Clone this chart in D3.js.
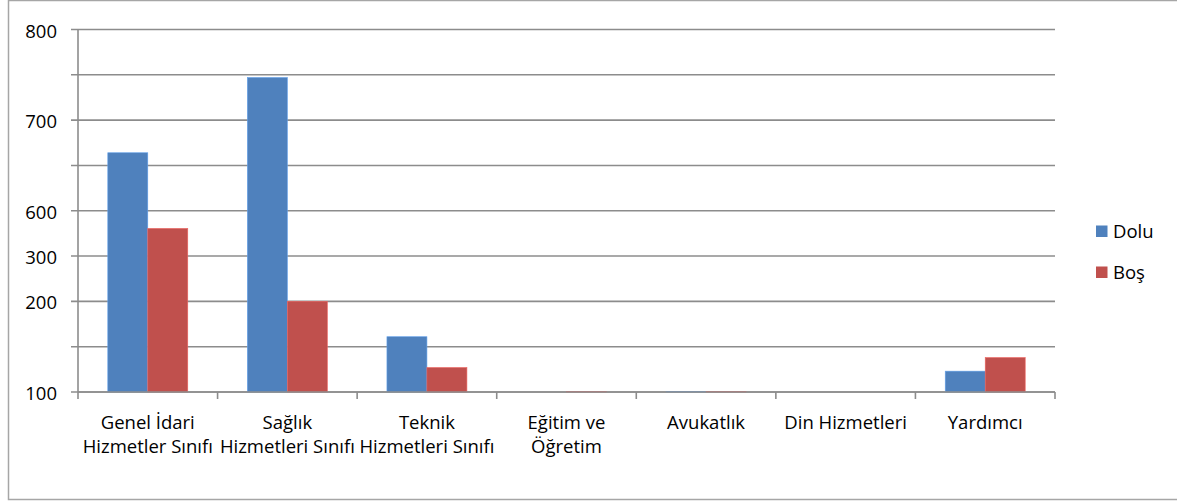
<!DOCTYPE html>
<html lang="tr">
  <head>
    <meta charset="utf-8" />
    <title>Dolu / Boş</title>
    <script src="https://cdnjs.cloudflare.com/ajax/libs/d3/7.4.4/d3.min.js"></script>
    <style>
      body {
        margin: 0;
        background: #fff;
      }
      svg text {
        font-family: 'Open Sans', 'Noto Sans', sans-serif;
        font-size: 18.5px;
        fill: #000;
      }
    </style>
  </head>
  <body>
    <div id="chart"></div>

    <script type="text/javascript">
      // Categories (each label split into lines)
      var categories = [
        ['Genel İdari', 'Hizmetler Sınıfı'],
        ['Sağlık', 'Hizmetleri Sınıfı'],
        ['Teknik', 'Hizmetleri Sınıfı'],
        ['Eğitim ve', 'Öğretim'],
        ['Avukatlık'],
        ['Din Hizmetleri'],
        ['Yardımcı']
      ]
      var seriesNames = ['Dolu', 'Boş']
      var doluValues = [664, 747, 161, 100, 100.4, 100, 123]
      var bosValues = [483, 200, 127, 100.4, 100.4, 100, 138]
      var seriesColors = ['#4F81BD', '#C0504D']

      // The axis is not linear: labelled values sit at these grid steps
      var yLabelValues = [100, 200, 300, 600, 700, 800]
      var yLabelSteps = [0, 2, 3, 4, 6, 8]
      var yTickValues = [100, 150, 200, 300, 600, 650, 700, 750, 800]

      var W = 1177,
        H = 501
      var margin = { top: 29.5, right: 122, bottom: 109, left: 78 },
        width = W - margin.left - margin.right,
        height = H - margin.top - margin.bottom

      var root = d3.select('#chart').append('svg').attr('width', W).attr('height', H)

      // outer frame
      root
        .append('rect')
        .attr('x', 8.5)
        .attr('y', 0.5)
        .attr('width', W)
        .attr('height', 499)
        .attr('fill', 'none')
        .attr('stroke', '#a6a6a6')
        .attr('stroke-width', 1.5)

      var svg = root.append('g').attr('transform', 'translate(' + margin.left + ',' + margin.top + ')')

      var x0 = d3
        .scaleBand()
        .domain(d3.range(categories.length))
        .range([0, width])
        .paddingInner(0.427)
        .paddingOuter(0.2135)
      var x1 = d3.scaleBand().domain(seriesNames).range([0, x0.bandwidth()])

      var stepScale = d3.scaleLinear().domain([0, 8]).range([height, 0])
      var y = d3.scaleLinear().domain(yLabelValues).range(yLabelSteps.map(stepScale))

      // gridlines
      svg
        .append('g')
        .selectAll('line')
        .data(yTickValues)
        .enter()
        .append('line')
        .attr('x1', -7)
        .attr('x2', width)
        .attr('y1', (d) => y(d))
        .attr('y2', (d) => y(d))
        .attr('stroke', '#8c8c8c')
        .attr('stroke-width', 1.6)

      // y labels
      svg
        .append('g')
        .selectAll('text')
        .data(yTickValues.filter((d) => yLabelValues.indexOf(d) >= 0))
        .enter()
        .append('text')
        .attr('x', -21)
        .attr('y', (d) => y(d) + 8)
        .attr('text-anchor', 'end')
        .text((d) => d)

      // bars
      var rows = categories.map(function (c, i) {
        return { i: i, values: [doluValues[i], bosValues[i]] }
      })
      var groups = svg
        .append('g')
        .selectAll('g')
        .data(rows)
        .enter()
        .append('g')
        .attr('transform', (d) => 'translate(' + x0(d.i) + ',0)')
      groups
        .selectAll('rect')
        .data((d) => d.values.map((v, k) => ({ name: seriesNames[k], value: v, k: k })))
        .enter()
        .append('rect')
        .attr('x', (d) => x1(d.name))
        .attr('y', (d) => y(d.value))
        .attr('width', x1.bandwidth())
        .attr('height', (d) => height - y(d.value))
        .attr('fill', (d) => seriesColors[d.k])
        .attr('stroke', (d) => d3.color(seriesColors[d.k]).brighter(0.6))
        .attr('stroke-width', 0.6)

      // y axis line
      svg
        .append('line')
        .attr('x1', 0)
        .attr('x2', 0)
        .attr('y1', 0)
        .attr('y2', height)
        .attr('stroke', '#8c8c8c')
        .attr('stroke-width', 1.6)

      // x axis line + ticks between categories
      svg
        .append('line')
        .attr('x1', 0)
        .attr('x2', width)
        .attr('y1', height)
        .attr('y2', height)
        .attr('stroke', '#8c8c8c')
        .attr('stroke-width', 1.6)
      var step = x0.step()
      svg
        .append('g')
        .selectAll('line')
        .data(d3.range(categories.length + 1))
        .enter()
        .append('line')
        .attr('x1', (d) => d * step)
        .attr('x2', (d) => d * step)
        .attr('y1', height)
        .attr('y2', height + 7)
        .attr('stroke', '#8c8c8c')
        .attr('stroke-width', 1.6)

      // category labels
      var labels = svg
        .append('g')
        .selectAll('text')
        .data(categories)
        .enter()
        .append('text')
        .attr('text-anchor', 'middle')
        .attr('x', (d, i) => x0(i) + x0.bandwidth() / 2)
        .attr('y', height + 37)
      labels
        .selectAll('tspan')
        .data((d) => d)
        .enter()
        .append('tspan')
        .attr('x', function () {
          return d3.select(this.parentNode).attr('x')
        })
        .attr('dy', (d, j) => (j === 0 ? 0 : 23.5))
        .text((d) => d)

      // legend
      var legend = root
        .append('g')
        .selectAll('g')
        .data(seriesNames)
        .enter()
        .append('g')
        .attr('transform', (d, i) => 'translate(1096,' + (225.5 + i * 41) + ')')
      legend
        .append('rect')
        .attr('width', 11.5)
        .attr('height', 11.5)
        .attr('fill', (d, i) => seriesColors[i])
      legend
        .append('text')
        .attr('x', 17)
        .attr('y', 12)
        .text((d) => d)
    </script>
  </body>
</html>
